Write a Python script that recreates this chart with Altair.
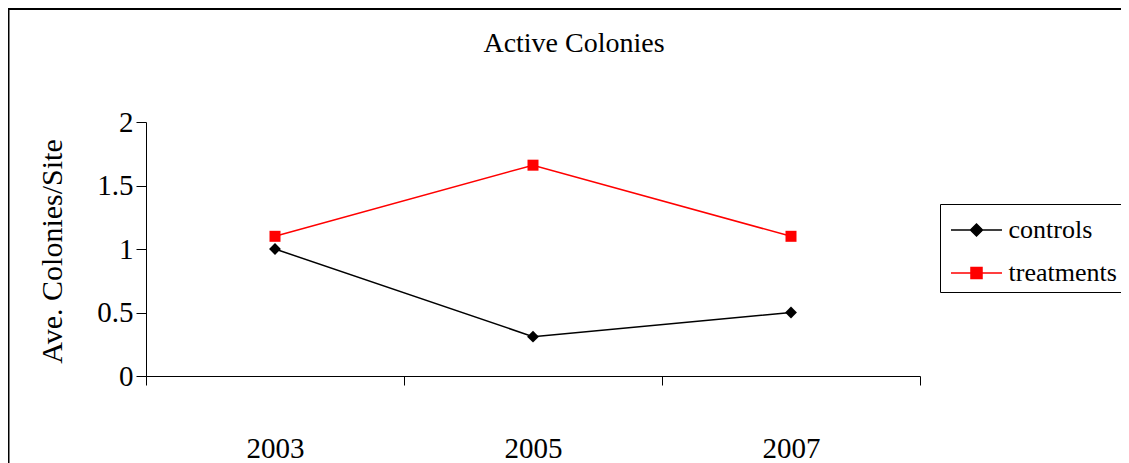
import altair as alt
import pandas as pd

years = ["2003", "2005", "2007"]
series_names = ["controls", "treatments"]
controls = [1.0, 0.31, 0.5]
treatments = [1.1, 1.66, 1.1]
y_ticks = [0, 0.5, 1, 1.5, 2]
colors = ["#000000", "#ff0000"]
marker_shapes = ["diamond", "square"]

rows = []
for name, vals in zip(series_names, [controls, treatments]):
    for yr, v in zip(years, vals):
        rows.append({"year": yr, "series": name, "value": v})
df = pd.DataFrame(rows)

FONT = "Liberation Serif"
DIAM = "M-1.342,0H1.342M0,-0.316L0.316,0L0,0.316L-0.316,0Z"
SQ = "M-1.342,0H1.342M-0.29,-0.29H0.29V0.29H-0.29Z"

legend = alt.Legend(
    orient="none", legendX=794, legendY=82, title=None,
    strokeColor="black", fillColor="white", padding=6,
    symbolSize=1444, symbolStrokeWidth=1.5, symbolOffset=10.5,
    labelOffset=12, rowPadding=10, symbolOpacity=1,
    labelFont=FONT, labelFontSize=26, labelColor="black",
    labelExpr="datum.label + '        '",
    symbolType={"expr": "datum.value == 'controls' ? '" + DIAM + "' : '" + SQ + "'"},
    symbolFillColor={"expr": "datum.value == 'controls' ? 'black' : 'red'"},
    symbolStrokeColor={"expr": "datum.value == 'controls' ? 'black' : 'red'"},
)

color = alt.Color("series:N", scale=alt.Scale(domain=series_names, range=colors), legend=legend)

xenc = alt.X("year:N", bandPosition=0.5,
             scale=alt.Scale(type="band", domain=years, paddingInner=0, paddingOuter=0),
             axis=alt.Axis(title=None, labelAngle=0, tickBand="extent", domainColor="black",
                           tickColor="black", tickSize=9, labelPadding=49, labelFont=FONT,
                           labelFontSize=29, labelColor="black", grid=False))
yenc = alt.Y("value:Q", scale=alt.Scale(domain=[0, 2]),
             axis=alt.Axis(title="Ave. Colonies/Site", values=y_ticks, format=".1~f",
                           domainColor="black", tickColor="black", tickSize=10,
                           labelPadding=3, labelFont=FONT, labelFontSize=29, labelColor="black",
                           grid=False, titleFont=FONT, titleFontSize=30, titleFontWeight="normal",
                           titleColor="black", titleAngle=-90, titleAlign="center",
                           titleBaseline="middle", titleX=-94, titleY=129))

base = alt.Chart(df)
lines = base.mark_line(strokeWidth=1.5).encode(x=xenc, y=yenc, color=color)

point_layers = []
for name, col, shp in zip(series_names, colors, marker_shapes):
    point_layers.append(
        base.transform_filter(alt.datum.series == name)
        .mark_point(filled=True, opacity=1, size=140 if shp == "diamond" else 121, shape=shp, color=col)
        .encode(x=xenc, y=yenc)
    )

frame = alt.Chart(pd.DataFrame({"k": [0]})).mark_rule(color="black", strokeWidth=2).encode(
    x=alt.value(-137.5), y=alt.value(-113), y2=alt.value(345))
frame_top = alt.Chart(pd.DataFrame({"k": [0]})).mark_rule(color="black", strokeWidth=2).encode(
    x=alt.value(-138), x2=alt.value(1000), y=alt.value(-113))

chart = alt.layer(frame, frame_top, lines, *point_layers).properties(
    width=774, height=254,
    title=alt.Title("Active Colonies", font=FONT, fontSize=28, fontWeight="normal", color="black",
                    anchor="middle", frame="group", dx=41, offset=-50),
    autosize=alt.AutoSizeParams(type="none"),
    padding={"left": 138, "top": 114, "right": 201, "bottom": 87},
).configure(background="white").configure_view(strokeWidth=0)

chart.save("out.html", embed_options={"renderer": "svg", "actions": False})
